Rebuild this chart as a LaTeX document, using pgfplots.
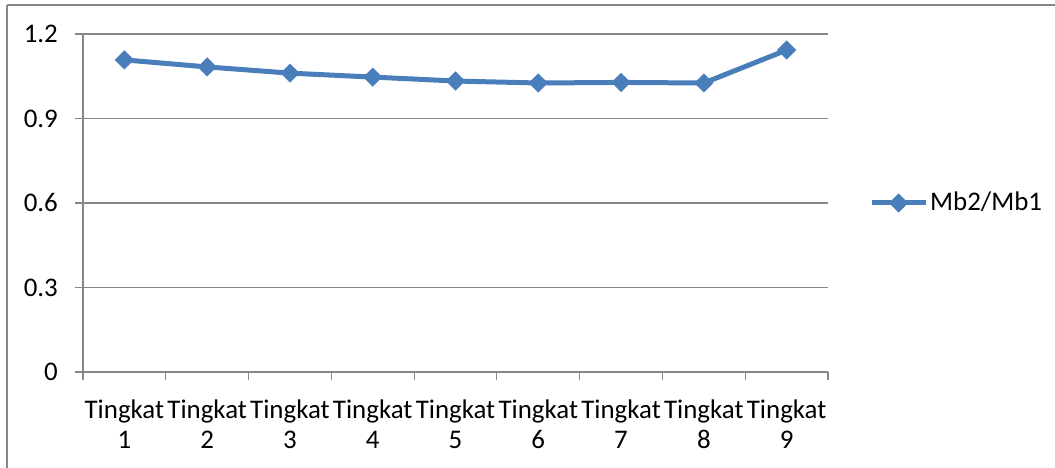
\documentclass[border=0pt]{standalone}
\usepackage{pgfplots}
\pgfplotsset{compat=1.18}
\usepackage{fontspec}
\setmainfont{Carlito}
\definecolor{xlblue}{HTML}{4A7EBB}
\definecolor{xlgray}{HTML}{868686}

\begin{document}
\fontsize{27}{30}\selectfont
\begin{tikzpicture}[x=1bp,y=1bp]
  \useasboundingbox (0,0) rectangle (1055,468);
  % chart frame (right and bottom edges fall outside the picture)
  \draw[xlgray, line width=1.2bp] (7,463) -- (1060,463);
  \draw[xlgray, line width=1.2bp] (7,463) -- (7,-5);
  \begin{axis}[
      at={(83bp,96bp)}, anchor=south west,
      width=745bp, height=338bp, scale only axis,
      xmin=0.5, xmax=9.5,
      ymin=0, ymax=1.2,
      ytick={0,0.3,...,1.2},
      yticklabels={0,0.3,0.6,0.9,1.2},
      xtick={1,...,9},
      xticklabels={Tingkat\\1,Tingkat\\2,Tingkat\\3,Tingkat\\4,Tingkat\\5,Tingkat\\6,Tingkat\\7,Tingkat\\8,Tingkat\\9},
      minor xtick={0.5,1.5,...,9.5},
      tick align=outside,
      major x tick style={draw=none},
      minor tick length=8bp,
      major tick length=8bp,
      tick style={xlgray, line width=1.2bp},
      axis x line*=bottom, axis y line*=left,
      axis line style={xlgray, line width=1.2bp, -},
      ymajorgrids,
      grid style={xlgray, line width=1.2bp},
      /pgf/number format/assume math mode=true,
      ticklabel style={font=\fontsize{27}{30}\selectfont},
      xticklabel style={align=center, yshift=-11bp},
      yticklabel style={xshift=-8bp},
      legend style={at={(1.055,0.5)}, anchor=west, draw=none, fill=none,
        font=\fontsize{27}{30}\selectfont, inner sep=0pt},
      legend image code/.code={
        \draw[mark repeat=2, mark phase=2] plot coordinates {(0bp,0bp) (27bp,0bp) (54bp,0bp)};},
      clip=false,
    ]
    \addplot[xlblue, line width=5bp, mark=square*,
      mark options={rotate=45, mark size=6.5bp, line width=0.5bp, fill=xlblue}]
      coordinates {
        (1,1.108) (2,1.083) (3,1.061) (4,1.047) (5,1.033)
        (6,1.026) (7,1.028) (8,1.026) (9,1.143)
      };
    \legend{Mb2/Mb1}
  \end{axis}
\end{tikzpicture}
\end{document}
